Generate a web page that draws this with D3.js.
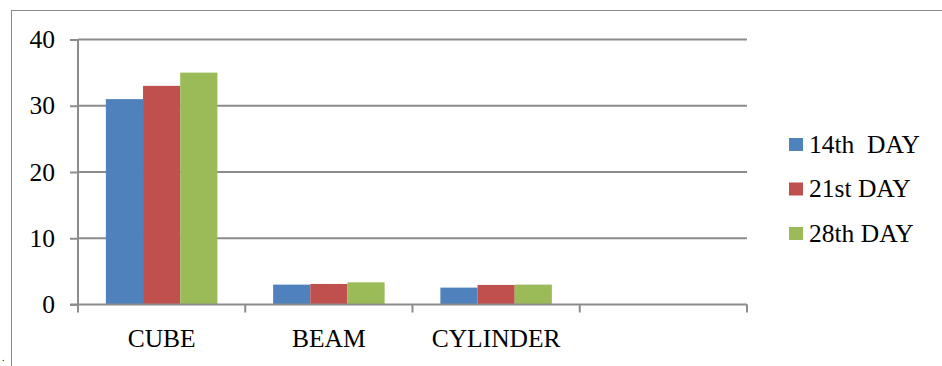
<!DOCTYPE html>
<html>
<head>
<meta charset="utf-8">
<script src="https://cdn.jsdelivr.net/npm/d3@7"></script>
<style>
  body { margin: 0; background: #fff; }
  svg { font-family: "Liberation Serif"; }
</style>
</head>
<body>
<svg id="svg" width="942" height="366"></svg>
<script>
const categories = ["CUBE", "BEAM", "CYLINDER", ""],
    series = ["14th  DAY", "21st DAY", "28th DAY"],
    colors = ["#4F81BD", "#C0504D", "#9BBB59"],
    day14 = [31, 3.0, 2.55, null],
    day21 = [33, 3.1, 2.95, null],
    day28 = [35, 3.35, 3.0, null],
    yTicks = [0, 10, 20, 30, 40];

const values = [day14, day21, day28],
    svg = d3.select("#svg"),
    pLeft = 78, pRight = 747, pTop = 39.5, pBottom = 304.5,
    grey = "#8c8c8c",
    serif = '"Liberation Serif"',
    fs = "25.5px";

// outer frame of the pasted chart
svg.append("rect").attr("x", 11.5).attr("y", 10.5).attr("width", 960).attr("height", 400)
    .style("fill", "none").style("stroke", "#8a8a8a").style("stroke-width", 1);
svg.append("text").attr("x", 2).attr("y", 361).style("font-size", "10px").text(".");

const x = d3.scaleBand().domain(categories).range([pLeft, pRight]).padding(0),
    xs = d3.scaleBand().domain(d3.range(series.length)).range([0, x.bandwidth()]).paddingInner(0).paddingOuter(0.75),
    y = d3.scaleLinear().domain([0, 40]).range([pBottom, pTop]);

// gridlines
svg.append("g").selectAll("line").data(yTicks.filter(d => d > 0)).join("line")
    .attr("x1", pLeft).attr("x2", pRight).attr("y1", d => y(d)).attr("y2", d => y(d))
    .style("stroke", grey).style("stroke-width", 2);

// bars
values.forEach((vals, i) => {
    svg.append("g").selectAll("rect").data(categories.map((c, j) => ({c, v: vals[j]})).filter(d => d.v != null)).join("rect")
        .attr("x", d => x(d.c) + xs(i)).attr("width", xs.bandwidth())
        .attr("y", d => y(d.v)).attr("height", d => y(0) - y(d.v))
        .style("fill", colors[i]);
});

// y axis
const yax = svg.append("g").attr("transform", `translate(${pLeft},0)`)
    .call(d3.axisLeft(y).tickValues(yTicks).tickSize(8).tickPadding(15));
yax.select(".domain").attr("d", `M0,${pTop}V${pBottom}`);

// x axis: ticks on category boundaries, labels centred
const bounds = categories.map(c => x(c)).concat([pRight]);
svg.append("line").attr("x1", pLeft - 8).attr("x2", pRight).attr("y1", pBottom).attr("y2", pBottom)
    .style("stroke", grey).style("stroke-width", 2);
svg.append("g").selectAll("line").data(bounds).join("line")
    .attr("x1", d => d).attr("x2", d => d).attr("y1", pBottom).attr("y2", pBottom + 8)
    .style("stroke", grey).style("stroke-width", 2);
const xax = svg.append("g").attr("transform", `translate(0,${pBottom})`)
    .call(d3.axisBottom(x).tickSize(0).tickPadding(24));
xax.select(".domain").remove();

svg.selectAll("g").attr("font-family", serif).attr("font-size", fs);
svg.selectAll(".domain, .tick line").style("stroke", grey).style("stroke-width", 2);
svg.selectAll(".tick text").attr("font-family", serif).style("font-size", fs).style("fill", "#000");

// legend
const lg = svg.append("g").attr("transform", "translate(789,138)")
    .attr("font-family", serif).attr("font-size", fs);
series.forEach((s, i) => {
    const r = lg.append("g").attr("transform", `translate(0,${i * 44.5})`);
    r.append("rect").attr("width", 14).attr("height", 13).style("fill", colors[i]);
    r.append("text").attr("x", 20).attr("y", 14.5).attr("xml:space", "preserve").text(s);
});
</script>
</body>
</html>
